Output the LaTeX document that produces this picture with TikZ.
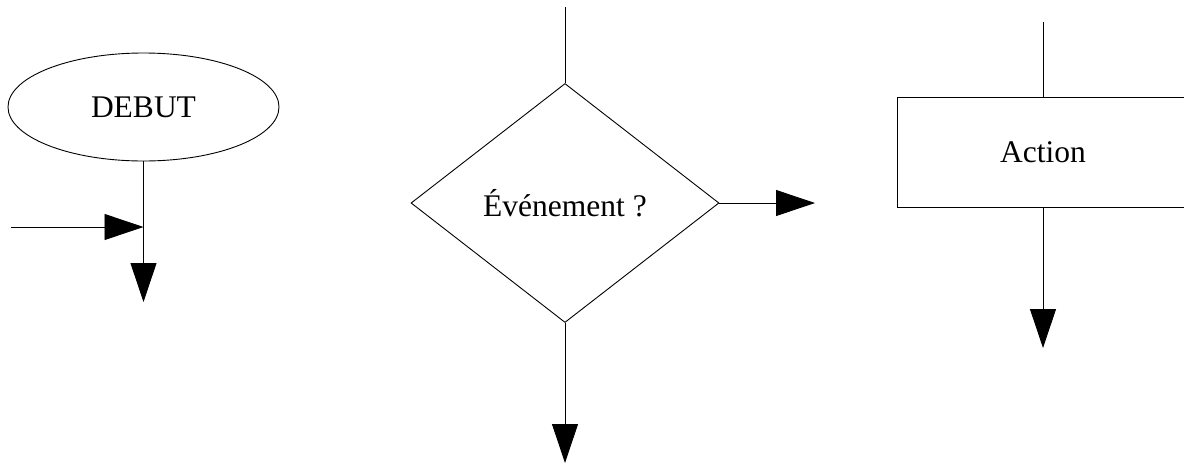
\documentclass[tikz,border=0pt]{standalone}
\usepackage{fontspec}
\setmainfont{Liberation Serif}
\usetikzlibrary{shapes.geometric,arrows.meta}

\begin{document}
\begin{tikzpicture}[x=1pt, y=-1pt, line width=0.9pt,
    font=\fontsize{31.5}{38}\selectfont,
    flow/.style={-{Triangle[length=39pt,width=26pt]}},
    box/.style={draw, inner sep=0pt}]
    \useasboundingbox (0,0) rectangle (1184,464);

    % the three flowchart symbols
    \node[box, ellipse, minimum width=271pt, minimum height=108pt] (debut) at (143.5,107) {DEBUT};
    \node[box, diamond, minimum width=308pt, minimum height=239pt] (test) at (565,203) {Événement ?};
    \node[box, rectangle, minimum width=292pt, minimum height=110pt] (action) at (1043,152) {Action};

    % loose ends of the connectors
    \coordinate (entry)     at (11,227);
    \coordinate (debut out) at (143.5,302);
    \coordinate (test in)   at (565,7);
    \coordinate (test yes)  at (815,203);
    \coordinate (test no)   at (565,463);
    \coordinate (action in) at (1043,22);
    \coordinate (action out) at (1043,348);

    \draw[flow] (debut.south) -- (debut out);
    \draw[flow] (entry) -- (entry -| debut.south);
    \draw       (test in) -- (test.north);
    \draw[flow] (test.east) -- (test yes);
    \draw[flow] (test.south) -- (test no);
    \draw       (action in) -- (action.north);
    \draw[flow] (action.south) -- (action out);
\end{tikzpicture}
\end{document}
